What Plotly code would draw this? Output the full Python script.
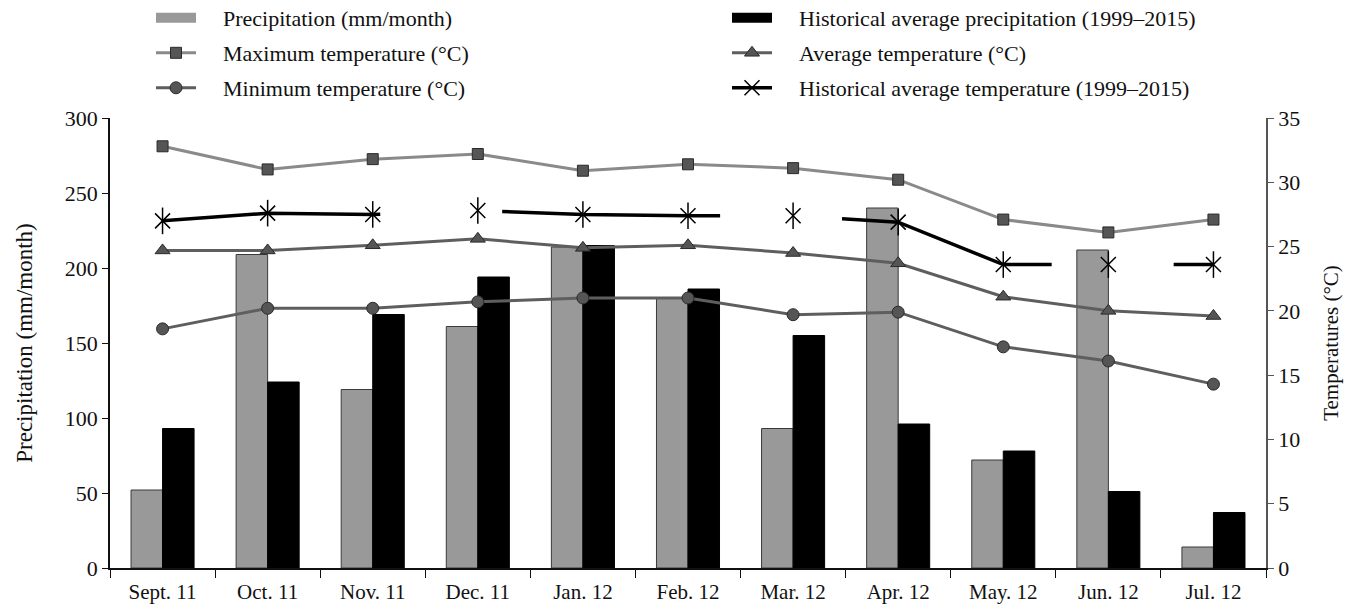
import plotly.graph_objects as go

# Monthly climate record, Sept. 2011 – Jul. 2012
months = ["Sept. 11", "Oct. 11", "Nov. 11", "Dec. 11", "Jan. 12", "Feb. 12",
          "Mar. 12", "Apr. 12", "May. 12", "Jun. 12", "Jul. 12"]

precipitation = [52, 209, 119, 161, 214, 180, 93, 240, 72, 212, 14]
hist_precipitation = [93, 124, 169, 194, 215, 186, 155, 96, 78, 51, 37]

temp_max = [32.8, 31.0, 31.8, 32.2, 30.9, 31.4, 31.1, 30.2, 27.1, 26.1, 27.1]
temp_avg = [24.7, 24.7, 25.1, 25.6, 24.9, 25.1, 24.5, 23.7, 21.1, 20.0, 19.6]
temp_min = [18.6, 20.2, 20.2, 20.7, 21.0, 21.0, 19.7, 19.9, 17.2, 16.1, 14.3]
hist_temp = [27.0, 27.6, 27.5, 27.8, 27.5, 27.4, 27.4, 26.9, 23.6, 23.6, 23.6]

SERIF = "Liberation Serif, Times New Roman, serif"
PAD = "\u2003"  # gap between legend swatch and label

GRAY_BAR = "#999999"
BLACK = "#000000"

fig = go.Figure()

fig.add_trace(go.Bar(
    x=months, y=precipitation, name="Precipitation (mm/month)",
    marker=dict(color=GRAY_BAR, line=dict(color="#3a3a3a", width=1)),
    showlegend=False))
fig.add_trace(go.Bar(
    x=months, y=hist_precipitation,
    name="Historical average precipitation (1999\u20132015)",
    marker=dict(color=BLACK, line=dict(color=BLACK, width=1)),
    showlegend=False))

# wide rectangular legend swatches for the two bar series
fig.add_trace(go.Scatter(
    x=[None], y=[None], mode="lines", name=PAD + "Precipitation (mm/month)",
    line=dict(color=GRAY_BAR, width=12), legend="legend", hoverinfo="skip"))
fig.add_trace(go.Scatter(
    x=[None], y=[None], mode="lines",
    name=PAD + "Historical average precipitation (1999\u20132015)",
    line=dict(color=BLACK, width=12), legend="legend2", hoverinfo="skip"))

fig.add_trace(go.Scatter(
    x=months, y=temp_max, yaxis="y2", mode="lines+markers",
    name=PAD + "Maximum temperature (\u00b0C)",
    line=dict(color="#8a8a8a", width=3),
    marker=dict(symbol="square", size=11, color="#555555",
                line=dict(color="#2a2a2a", width=1)),
    legend="legend3"))
fig.add_trace(go.Scatter(
    x=months, y=temp_avg, yaxis="y2", mode="lines+markers",
    name=PAD + "Average temperature (\u00b0C)",
    line=dict(color="#5e5e5e", width=3),
    marker=dict(symbol="triangle-up", size=13, color="#555555",
                line=dict(color="#2a2a2a", width=1)),
    legend="legend4"))
fig.add_trace(go.Scatter(
    x=months, y=temp_min, yaxis="y2", mode="lines+markers",
    name=PAD + "Minimum temperature (\u00b0C)",
    line=dict(color="#5e5e5e", width=3),
    marker=dict(symbol="circle", size=12, color="#555555",
                line=dict(color="#2a2a2a", width=1)),
    legend="legend5"))

# Historical temperature: long-dash line with asterisk markers
fig.add_trace(go.Scatter(
    x=months, y=hist_temp, yaxis="y2", mode="lines+markers",
    name=PAD + "Historical average temperature (1999\u20132015)",
    line=dict(color=BLACK, width=3.5, dash="218px,122px"),
    marker=dict(symbol="x-thin-open", size=15, color=BLACK,
                line=dict(color=BLACK, width=1.5)),
    legend="legend6"))
fig.add_trace(go.Scatter(
    x=months, y=hist_temp, yaxis="y2", mode="markers",
    showlegend=False, hoverinfo="skip",
    marker=dict(symbol="line-ns-open", size=19, color=BLACK,
                line=dict(color=BLACK, width=1.5))))

L, R, T, B = 110, 91, 118, 42
W, H = 1357, 610
pw, ph = W - L - R, H - T - B


def px_x(px):
    return (px - L) / pw


def px_y(py):
    return (H - B - py) / ph


legend_font = dict(family=SERIF, size=22, color="#111111")


def legend_at(px, py):
    return dict(x=px_x(px), y=px_y(py), xanchor="left", yanchor="middle",
                bgcolor="rgba(0,0,0,0)", font=legend_font, itemwidth=40)


col1, col2 = 151, 727
row1, row2, row3 = 18, 53, 88

fig.update_layout(
    width=W, height=H,
    margin=dict(l=L, r=R, t=T, b=B, autoexpand=False),
    paper_bgcolor="white", plot_bgcolor="white",
    barmode="group", bargap=0.4, bargroupgap=0.0,
    font=dict(family=SERIF, size=21, color="#111111"),
    legend=legend_at(col1, row1),
    legend2=legend_at(col2, row1),
    legend3=legend_at(col1, row2),
    legend4=legend_at(col2, row2),
    legend5=legend_at(col1, row3),
    legend6=legend_at(col2, row3),
    xaxis=dict(
        range=[-0.5, len(months) - 0.5],
        showline=True, linecolor="#111111", linewidth=1.5,
        ticks="outside", tickson="boundaries", ticklen=8,
        tickcolor="#111111", showgrid=False, zeroline=False,
        ticklabelstandoff=4,
        tickfont=dict(family=SERIF, size=21, color="#111111")),
    yaxis=dict(
        range=[0, 300], dtick=50, showgrid=False, zeroline=False,
        showline=True, linecolor="#111111", linewidth=1.5,
        ticks="outside", ticklen=6, tickcolor="#111111",
        tickfont=dict(family=SERIF, size=22, color="#111111"),
        title=dict(text="Precipitation (mm/month)",
                   font=dict(family=SERIF, size=23, color="#111111"),
                   standoff=26)),
    yaxis2=dict(
        range=[0, 35], dtick=5, overlaying="y", side="right",
        showgrid=False, zeroline=False,
        showline=True, linecolor="#555555", linewidth=1.5,
        ticks="outside", ticklen=6, tickcolor="#555555",
        tickfont=dict(family=SERIF, size=22, color="#111111"),
        title=dict(text="Temperatures (\u00b0C)",
                   font=dict(family=SERIF, size=21, color="#111111"),
                   standoff=24)),
)

fig.write_html("out.html")
